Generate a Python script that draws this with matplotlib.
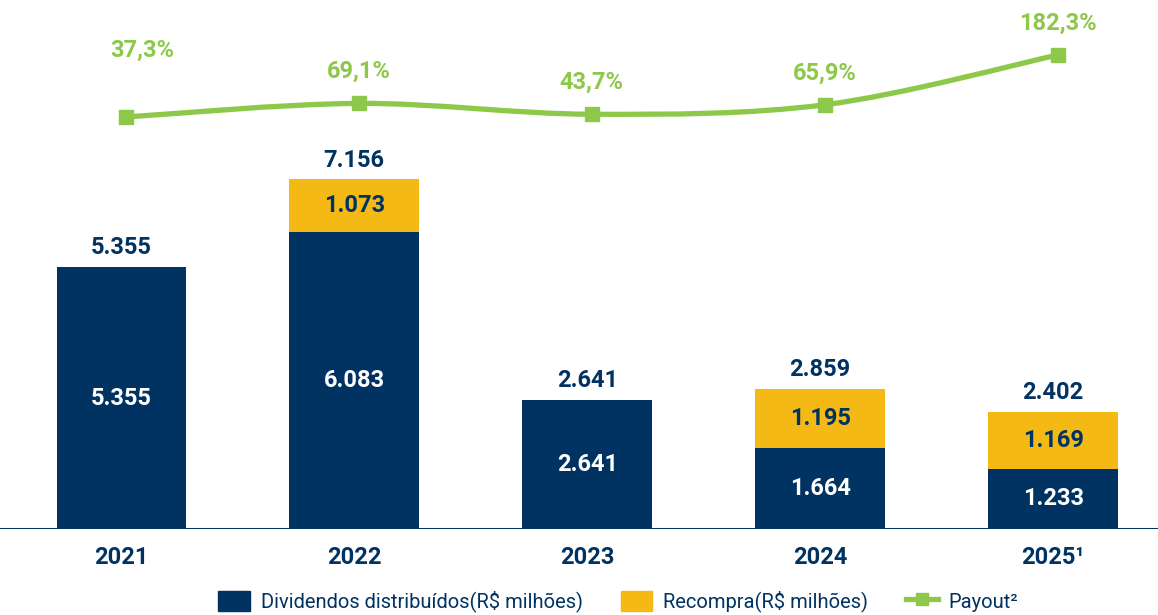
import numpy as np
import matplotlib.pyplot as plt
from matplotlib.path import Path
from matplotlib.patches import PathPatch, Patch
from matplotlib.lines import Line2D

plt.rcParams['font.family'] = ['Roboto', 'DejaVu Sans']

years = ['2021', '2022', '2023', '2024', '2025¹']
dividendos = [5355, 6083, 2641, 1664, 1233]
recompra = [0, 1073, 0, 1195, 1169]
totais = [5355, 7156, 2641, 2859, 2402]
payout = [37.3, 69.1, 43.7, 65.9, 182.3]

navy = '#003262'
yellow = '#F4B915'
green = '#8DC84B'


def fmt(v):
    return f'{v:,}'.replace(',', '.')


fig = plt.figure(figsize=(11.58, 6.15), dpi=100)
ax = fig.add_axes([0, 0.14, 1, 0.86])
x = np.arange(len(years))
w = 0.555

ax.bar(x, dividendos, w, color=navy)
ax.bar(x, recompra, w, bottom=dividendos, color=yellow)

for i in range(len(years)):
    ax.text(x[i], dividendos[i] / 2, fmt(dividendos[i]), ha='center', va='center',
            color='white', fontsize=17, fontweight='bold')
    if recompra[i]:
        ax.text(x[i], dividendos[i] + recompra[i] / 2, fmt(recompra[i]), ha='center',
                va='center', color=navy, fontsize=17, fontweight='bold')
    ax.annotate(fmt(totais[i]), (x[i], totais[i]), xytext=(0, 14), textcoords='offset points',
                ha='center', va='center', color=navy, fontsize=17, fontweight='bold')

ax.set_xlim(-0.52, 4.45)
ax.set_ylim(0, 10832)
ax.axhline(0, color=navy, lw=2.2)
for s in ax.spines.values():
    s.set_visible(False)
ax.set_yticks([])
ax.set_xticks(x)
ax.set_xticklabels(years, fontsize=17, fontweight='bold', color=navy)
ax.tick_params(axis='x', length=0, pad=12)

# payout on a secondary scale
ax2 = ax.twinx()
ax2.set_ylim(-926.0, 310.9)
ax2.set_yticks([])
for s in ax2.spines.values():
    s.set_visible(False)

px = x + 0.02
py = np.array(payout)
# smooth curve (Catmull-Rom as cubic Bezier segments)
verts = [(px[0], py[0])]
codes = [Path.MOVETO]
n = len(px)
for i in range(n - 1):
    p0 = np.array([px[max(i - 1, 0)], py[max(i - 1, 0)]])
    p1 = np.array([px[i], py[i]])
    p2 = np.array([px[i + 1], py[i + 1]])
    p3 = np.array([px[min(i + 2, n - 1)], py[min(i + 2, n - 1)]])
    c1 = p1 + (p2 - p0) / 6
    c2 = p2 - (p3 - p1) / 6
    verts += [tuple(c1), tuple(c2), tuple(p2)]
    codes += [Path.CURVE4] * 3
ax2.add_patch(PathPatch(Path(verts, codes), fill=False, edgecolor=green, lw=3.8,
                        capstyle='round'))
ax2.plot(px, py, 's', color=green, markersize=10, zorder=3)

for i in range(n):
    label = f'{payout[i]:.1f}%'.replace('.', ',')
    off = (12, 48) if i == 0 else (0, 23)
    ax2.annotate(label, (px[i], py[i]), xytext=off, textcoords='offset points',
                 ha='center', va='center', color=green, fontsize=17, fontweight='bold')

handles = [
    Patch(color=navy, label='Dividendos distribuídos(R$ milhões)'),
    Patch(color=yellow, label='Recompra(R$ milhões)'),
    Line2D([0], [0], color=green, lw=3.8, marker='s', markersize=9, label='Payout²'),
]
leg = fig.legend(handles=handles, loc='center', bbox_to_anchor=(0.534, 0.022), ncol=3,
                 frameon=False, fontsize=14.5, handlelength=1.55, handleheight=1.2,
                 columnspacing=1.9, handletextpad=0.55)
for t in leg.get_texts():
    t.set_color(navy)

fig.savefig('out.png', dpi=100)
